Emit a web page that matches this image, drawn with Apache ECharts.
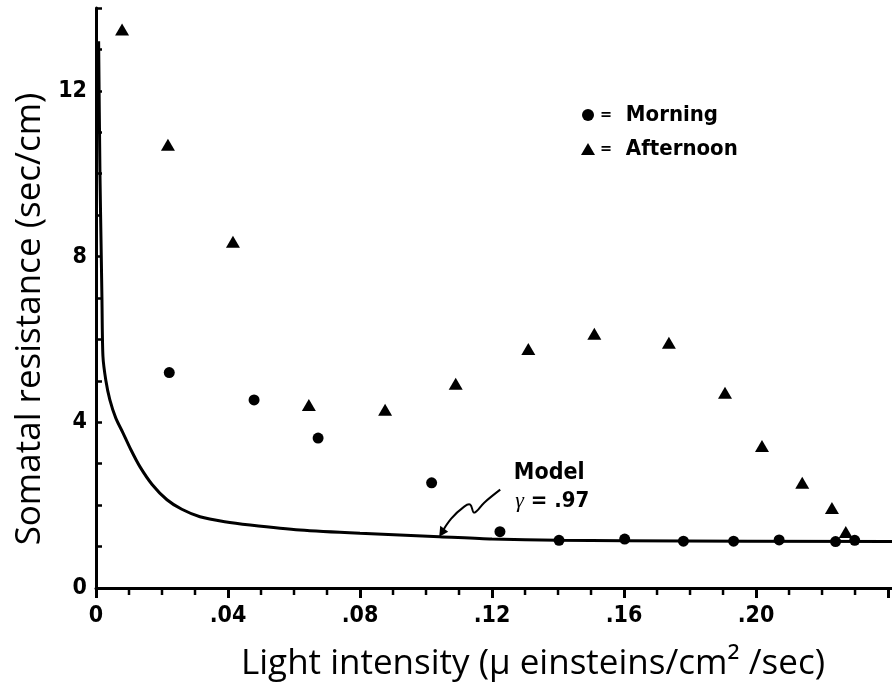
<!DOCTYPE html>
<html>
<head>
	<meta charset="utf-8"/>
	<title>Somatal resistance</title>
	<script src="https://cdn.jsdelivr.net/npm/echarts@6/dist/echarts.min.js"></script>
</head>
<body style="margin: 0; background: #fff;">

	<div id="chart" style="width: 892px; height: 691px;"></div>

	<script>
		// light intensity (x) and resistance (y)
		var morningX = [0.0222, 0.0479, 0.0673, 0.1017, 0.1224, 0.1403, 0.1602, 0.1780, 0.1932, 0.2070, 0.2241, 0.2299];
		var morningY = [5.20, 4.54, 3.62, 2.54, 1.36, 1.15, 1.18, 1.13, 1.13, 1.16, 1.12, 1.15];

		var afternoonX = [0.0079, 0.0218, 0.0415, 0.0645, 0.0876, 0.1090, 0.1310, 0.1510, 0.1736, 0.1906, 0.2018, 0.2140, 0.2230, 0.2272];
		var afternoonY = [13.48, 10.70, 8.36, 4.42, 4.30, 4.93, 5.77, 6.14, 5.92, 4.71, 3.43, 2.54, 1.93, 1.35];

		var modelX = [0.0008, 0.0012, 0.0016, 0.0018, 0.0021, 0.0030, 0.0042, 0.0060, 0.0082, 0.0105, 0.0133, 0.0170, 0.0215, 0.0260, 0.0315, 0.0390, 0.0467, 0.0618, 0.0800, 0.1040, 0.1200, 0.1400, 0.1600, 0.2412];
		var modelY = [13.2, 10.0, 8.0, 7.0, 5.6, 5.0, 4.54, 4.1, 3.74, 3.35, 2.93, 2.5, 2.13, 1.9, 1.72, 1.6, 1.52, 1.40, 1.32, 1.24, 1.18, 1.15, 1.14, 1.12];

		var xTicks = [0, 0.04, 0.08, 0.12, 0.16, 0.20];
		var xMinorTicks = [0.01, 0.02, 0.03, 0.05, 0.06, 0.07, 0.09, 0.10, 0.11, 0.13, 0.14, 0.15, 0.17, 0.18, 0.19, 0.21, 0.22, 0.23];
		var yTicks = [0, 4, 8, 12];

		function pairs (xs, ys) {
			var res = [];
			for (var i = 0; i < xs.length; i++) {
				res.push([xs[i], ys[i]]);
			}
			return res;
		}

		var font = '"Liberation Sans Narrow", "DejaVu Sans Condensed", "Liberation Sans", sans-serif';
		var titleFont = '500 35px "Open Sans", "Liberation Sans", sans-serif';
		var ink = '#000';

		var myChart = echarts.init(document.getElementById('chart'));

		var option = {
			animation: false,
			backgroundColor: '#fff',
			grid: { left: 96, right: 0, top: 8, bottom: 103 },
			legend: {
				orient: 'vertical',
				left: 576,
				top: 99,
				itemGap: 12,
				itemWidth: 14,
				itemHeight: 12,
				data: [
					{ name: 'Morning', icon: 'circle' },
					{ name: 'Afternoon', icon: 'triangle' }
				],
				formatter: function (name) {
					return '{eq|=}  ' + name;
				},
				textStyle: {
					color: ink,
					fontFamily: font,
					fontWeight: 'bold',
					fontSize: 22,
					rich: { eq: { fontSize: 16, fontWeight: 'bold', color: ink, fontFamily: font } }
				}
			},
			xAxis: {
				type: 'value',
				min: 0,
				max: 0.2412,
				interval: 0.04,
				splitLine: { show: false },
				axisLine: { show: true, onZero: false, lineStyle: { color: ink, width: 3 } },
				axisTick: { show: true, length: 10, lineStyle: { color: ink, width: 3 } },
				axisLabel: {
					margin: 17,
					color: ink,
					fontFamily: font,
					fontWeight: 'bold',
					fontSize: 23,
					showMaxLabel: false,
					formatter: function (v) {
						for (var i = 0; i < xTicks.length; i++) {
							if (Math.abs(v - xTicks[i]) < 1e-6) {
								return v === 0 ? '0' : ('.' + v.toFixed(2).split('.')[1]);
							}
						}
						return '';
					}
				}
			},
			yAxis: {
				type: 'value',
				min: 0,
				max: 14,
				interval: 1,
				splitLine: { show: false },
				axisLine: { show: true, lineStyle: { color: ink, width: 3 } },
				axisTick: { show: true, inside: true, length: 6, lineStyle: { color: ink, width: 2.5 } },
				axisLabel: {
					margin: 9,
					color: ink,
					fontFamily: font,
					fontWeight: 'bold',
					fontSize: 23,
					formatter: function (v) {
						return yTicks.indexOf(v) >= 0 ? String(v) : '';
					}
				}
			},
			series: [
				{
					name: 'Model',
					type: 'line',
					data: pairs(modelX, modelY),
					showSymbol: false,
					smooth: 0.25,
					lineStyle: { color: ink, width: 3 },
					z: 1
				},
				{
					name: 'Morning',
					type: 'scatter',
					data: pairs(morningX, morningY),
					symbol: 'circle',
					symbolSize: 11,
					itemStyle: { color: ink, opacity: 1 },
					z: 3
				},
				{
					name: 'Afternoon',
					type: 'scatter',
					data: pairs(afternoonX, afternoonY),
					symbol: 'triangle',
					symbolSize: [14, 12],
					itemStyle: { color: ink, opacity: 1 },
					z: 3
				}
			]
		};

		myChart.setOption(option);

		// short x ticks every .01, placed through the axis scale
		var graphics = [];
		for (var i = 0; i < xMinorTicks.length; i++) {
			var p = myChart.convertToPixel({ xAxisIndex: 0, yAxisIndex: 0 }, [xMinorTicks[i], 0]);
			graphics.push({
				type: 'line',
				shape: { x1: p[0], y1: p[1], x2: p[0], y2: p[1] + 7 },
				style: { stroke: ink, lineWidth: 2.5 }
			});
		}

		// axis titles and the "Model" note with its squiggly arrow
		var tip = myChart.convertToPixel({ xAxisIndex: 0, yAxisIndex: 0 }, [0.104, 1.24]);
		var tx = tip[0], ty = tip[1];
		var arrowPts = [
			[tx + 61, ty - 47], [tx + 45, ty - 34], [tx + 35, ty - 24],
			[tx + 31, ty - 32], [tx + 25, ty - 30], [tx + 12, ty - 18], [tx + 2, ty - 3]
		];

		graphics.push(
			{
				type: 'text',
				x: 533,
				y: 664,
				style: {
					text: 'Light intensity (μ einsteins/cm² /sec)',
					fill: ink,
					font: titleFont,
					textAlign: 'center',
					textVerticalAlign: 'middle'
				}
			},
			{
				type: 'text',
				x: 30,
				y: 319,
				rotation: Math.PI / 2,
				style: {
					text: 'Somatal resistance (sec/cm)',
					fill: ink,
					font: titleFont,
					textAlign: 'center',
					textVerticalAlign: 'middle'
				}
			},
			{
				type: 'text',
				x: tx + 110,
				y: ty - 64,
				style: {
					text: 'Model',
					fill: ink,
					font: 'bold 23px ' + font,
					textAlign: 'center',
					textVerticalAlign: 'middle'
				}
			},
			{
				type: 'text',
				x: tx + 113,
				y: ty - 35,
				style: {
					text: '{g|γ} = .97',
					fill: ink,
					font: 'bold 22px ' + font,
					textAlign: 'center',
					textVerticalAlign: 'middle',
					rich: { g: { fontStyle: 'italic', fontSize: 22, fontFamily: 'Liberation Serif' } }
				}
			},
			{
				type: 'polyline',
				shape: { points: arrowPts, smooth: 0.4 },
				style: { stroke: ink, lineWidth: 2, fill: null }
			},
			{
				type: 'polygon',
				shape: { points: [[tx, ty], [tx + 1, ty - 11], [tx + 9, ty - 5]] },
				style: { fill: ink }
			}
		);

		myChart.setOption({ graphic: graphics });
	</script>
</body>
</html>
